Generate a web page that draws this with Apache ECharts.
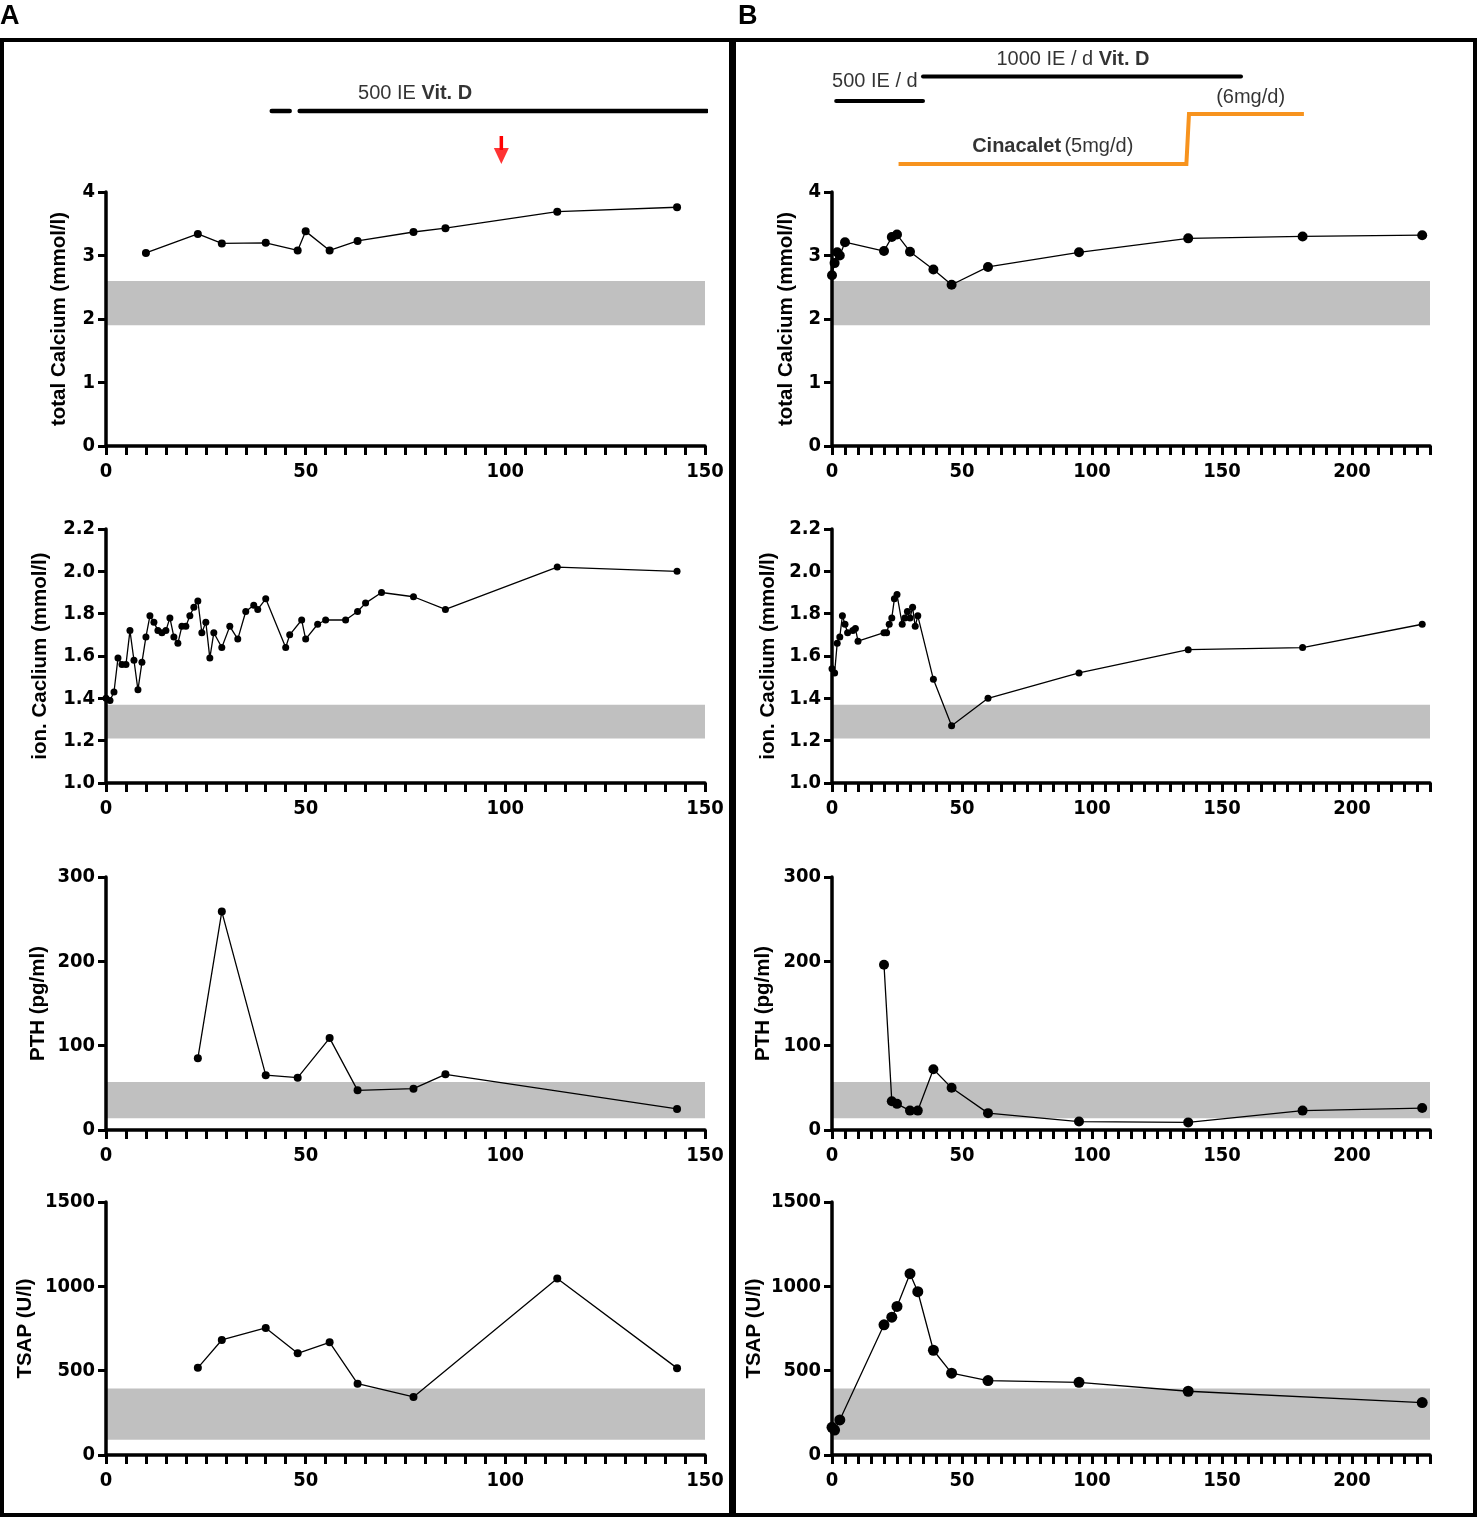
<!DOCTYPE html>
<html><head><meta charset="utf-8">
<script src="https://cdn.jsdelivr.net/npm/echarts@6/dist/echarts.min.js"></script>
<style>html,body{margin:0;padding:0;background:#fff}#c{width:1477px;height:1518px}</style>
</head><body><div id="c"></div><script>
// ---------- DATA ----------
// Panel A
const daysA_tCa = [10,23,29,40,48,50,56,63,77,85,113,143];
const tCaA = [3.04,3.34,3.19,3.20,3.08,3.38,3.08,3.23,3.37,3.43,3.69,3.76];
const daysA_iCa = [0,1,2,3,4,5,6,7,8,9,10,11,12,13,14,15,16,17,18,19,20,21,22,23,24,25,26,27,29,31,33,35,37,38,40,45,46,49,50,53,55,60,63,65,69,77,85,113,143];
const iCaA = [1.40,1.39,1.43,1.59,1.56,1.56,1.72,1.58,1.44,1.57,1.69,1.79,1.76,1.72,1.71,1.72,1.78,1.69,1.66,1.74,1.74,1.79,1.83,1.86,1.71,1.76,1.59,1.71,1.64,1.74,1.68,1.81,1.84,1.82,1.87,1.64,1.70,1.77,1.68,1.75,1.77,1.77,1.81,1.85,1.90,1.88,1.82,2.02,2.00];
const daysA_PTH = [23,29,40,48,56,63,77,85,143];
const pthA = [85,259,65,62,109,47,49,66,25];
const daysA_TSAP = [23,29,40,48,56,63,77,113,143];
const tsapA = [517,682,753,603,668,423,344,1046,515];
// Panel B
const daysB_tCa = [0,1,2,3,5,20,23,25,30,39,46,60,95,137,181,227];
const tCaB = [2.69,2.88,3.05,3.00,3.21,3.07,3.29,3.33,3.06,2.78,2.54,2.82,3.05,3.27,3.30,3.32];
const daysB_iCa = [0,1,2,3,4,5,6,8,9,10,20,21,22,23,24,25,27,28,29,30,31,32,33,39,46,60,95,137,181,227];
const iCaB = [1.54,1.52,1.66,1.69,1.79,1.75,1.71,1.72,1.73,1.67,1.71,1.71,1.75,1.78,1.87,1.89,1.75,1.78,1.81,1.78,1.83,1.74,1.79,1.49,1.27,1.40,1.52,1.63,1.64,1.75];
const daysB_PTH = [20,23,25,30,33,39,46,60,95,137,181,227];
const pthB = [196,34,31,23,23,72,50,20,10,9,23,26];
const daysB_TSAP = [0,1,3,20,23,25,30,33,39,46,60,95,137,227];
const tsapB = [164,148,208,772,817,881,1075,968,621,485,441,431,378,311];
// Reference ranges (grey bands)
const band_tCa = [1.9, 2.6];
const band_iCa = [1.21, 1.37];
const band_PTH = [14, 57];
const band_TSAP = [90, 395];
// Treatments (day ranges)
const vitD_A = [[41.5,46],[48.5,150.5]];
const arrowDayA = 99;
const vitD500_B = [1.6, 35];
const vitD1000_B = [35, 157.3];
const cinacalet_B = [[25.6,0],[136.3,0],[137.3,1],[181.5,1]]; // [day, dose step]
// Axis settings
const xMaxA = 150, xMaxB = 230;
const yNames = ['total Calcium (mmol/l)','ion. Caclium (mmol/l)','PTH (pg/ml)','TSAP (U/l)'];
const yRanges = [[0,4,1],[1.0,2.2,0.2],[0,300,100],[0,1500,500]];

// ---------- LAYOUT ----------
const TICKFONT = "'Liberation Sans Narrow','Arial Narrow','DejaVu Sans Condensed',sans-serif";
const TXTFONT = "'Liberation Sans',Arial,Helvetica,sans-serif";
const rowTop = [192,529,877,1202];
const rowH = [254,254,253,253];
const colLeft = [106,832];
const colW = [599,598];
const nameGapA = [36,55,57,70];
const nameGapB = [35,53,58,67];

const grids=[], xAxes=[], yAxes=[], series=[];
function addChart(col,row,xs,ys,band,size){
  const gi = grids.length;
  grids.push({left:colLeft[col], top:rowTop[row], width:colW[col], height:rowH[row], outerBoundsMode:'none', containLabel:false});
  xAxes.push({gridIndex:gi,type:'value',min:0,max:col===0?xMaxA:xMaxB,interval:5,z:2,
    axisLine:{show:true,onZero:false,lineStyle:{color:'#000',width:3.5}},
    axisTick:{show:true,length:9,lineStyle:{color:'#000',width:3}},
    axisLabel:{margin:16,fontSize:20,fontWeight:'bold',color:'#000',fontFamily:TICKFONT,
      formatter:v=> (Math.round(v)%50===0 ? String(Math.round(v)) : '')},
    splitLine:{show:false}});
  const r = yRanges[row];
  yAxes.push({gridIndex:gi,type:'value',min:r[0],max:r[1],interval:r[2],z:2,
    axisLine:{show:true,onZero:false,lineStyle:{color:'#000',width:3.5}},
    axisTick:{show:true,length:8,lineStyle:{color:'#000',width:3}},
    axisLabel:{margin:11,fontSize:20,fontWeight:'bold',color:'#000',fontFamily:TICKFONT,
      formatter:v=> row===1 ? v.toFixed(1) : String(Math.round(v))},
    splitLine:{show:false},
    name:yNames[row],nameLocation:'middle',nameGap:(col===0?nameGapA:nameGapB)[row],
    nameTextStyle:{fontSize:20.5,fontWeight:'bold',color:'#000',fontFamily:TXTFONT}});
  series.push({type:'line',xAxisIndex:gi,yAxisIndex:gi,z:3,animation:false,
    data:xs.map((x,i)=>[x,ys[i]]),symbol:'circle',symbolSize:size,showAllSymbol:true,
    itemStyle:{color:'#000'},lineStyle:{color:'#000',width:1.3},
    markArea:{silent:true,z:1,itemStyle:{color:'#c0c0c0'},data:[[{yAxis:band[0]},{yAxis:band[1]}]]}});
}
addChart(0,0,daysA_tCa,tCaA,band_tCa,8);
addChart(0,1,daysA_iCa,iCaA,band_iCa,7);
addChart(0,2,daysA_PTH,pthA,band_PTH,8);
addChart(0,3,daysA_TSAP,tsapA,band_TSAP,8);
addChart(1,0,daysB_tCa,tCaB,band_tCa,10);
addChart(1,1,daysB_iCa,iCaB,band_iCa,7);
addChart(1,2,daysB_PTH,pthB,band_PTH,10);
addChart(1,3,daysB_TSAP,tsapB,band_TSAP,11);

// annotation grids (y in pixel-like rows from top of band)
function annGrid(col,xmax){
  const gi = grids.length;
  grids.push({left:colLeft[col],top:40,width:colW[col],height:150,outerBoundsMode:'none'});
  xAxes.push({gridIndex:gi,type:'value',min:0,max:xmax,show:false});
  yAxes.push({gridIndex:gi,type:'value',min:0,max:150,inverse:true,show:false});
  return gi;
}
const gA = annGrid(0,xMaxA), gB = annGrid(1,xMaxB);
function seg(gi,x1,x2,v,color,w){
  series.push({type:'line',xAxisIndex:gi,yAxisIndex:gi,clip:false,symbol:'none',animation:false,z:4,
    data:[[x1,v],[x2,v]],lineStyle:{color:color,width:w,cap:'round'}});
}
function txt(gi,x,v,fmt){
  series.push({type:'scatter',xAxisIndex:gi,yAxisIndex:gi,clip:false,symbolSize:1,animation:false,z:4,
    itemStyle:{color:'rgba(0,0,0,0)'},data:[[x,v]],
    label:{show:true,position:'inside',formatter:fmt,
      rich:{n:{fontSize:20,fontFamily:TXTFONT,color:'#000'},b:{fontSize:20,fontFamily:TXTFONT,fontWeight:'bold',color:'#000'}}}});
}
// Panel A treatments
vitD_A.forEach(s=>seg(gA,s[0],s[1],71,'#000',4.5));
txt(gA,77.4,53,'{n|500 IE }{b|Vit. D}');
series.push({type:'line',xAxisIndex:gA,yAxisIndex:gA,clip:false,symbol:'none',animation:false,z:4,
  data:[[arrowDayA,96],[arrowDayA,110]],lineStyle:{color:'#ff0000',width:3.5}});
series.push({type:'scatter',xAxisIndex:gA,yAxisIndex:gA,clip:false,animation:false,z:4,symbol:'triangle',
  symbolRotate:180,symbolSize:[15,16],itemStyle:{color:'#ff0000'},data:[[arrowDayA,116]]});
// Panel B treatments
seg(gB,vitD500_B[0],vitD500_B[1],61,'#000',4);
seg(gB,vitD1000_B[0],vitD1000_B[1],36.5,'#000',4);
txt(gB,16.5,41,'{n|500 IE / d}');
txt(gB,92.7,19,'{n|1000 IE / d }{b|Vit. D}');
series.push({type:'line',xAxisIndex:gB,yAxisIndex:gB,clip:false,symbol:'none',animation:false,z:4,
  data:cinacalet_B.map(p=>[p[0], p[1]===0?124:74]),lineStyle:{color:'#f7931e',width:4,join:'miter'}});
txt(gB,84.9,106,'{b|Cinacalet} {n|(5mg/d)}');
txt(gB,161,57,'{n|(6mg/d)}');

const chart = echarts.init(document.getElementById('c'),null,{renderer:'canvas'});
chart.setOption({
  animation:false,
  backgroundColor:'#fff',
  grid:grids, xAxis:xAxes, yAxis:yAxes, series:series,
  graphic:[
    {type:'rect',shape:{x:2,y:40,width:729,height:1475},style:{fill:'none',stroke:'#000',lineWidth:4},z:10},
    {type:'rect',shape:{x:734,y:40,width:741,height:1475},style:{fill:'none',stroke:'#000',lineWidth:4},z:10},
    {type:'text',left:0,top:3,style:{text:'A',font:"bold 27px "+TXTFONT,fill:'#000'}},
    {type:'text',left:738,top:3,style:{text:'B',font:"bold 27px "+TXTFONT,fill:'#000'}}
  ]
});
</script></body></html>
